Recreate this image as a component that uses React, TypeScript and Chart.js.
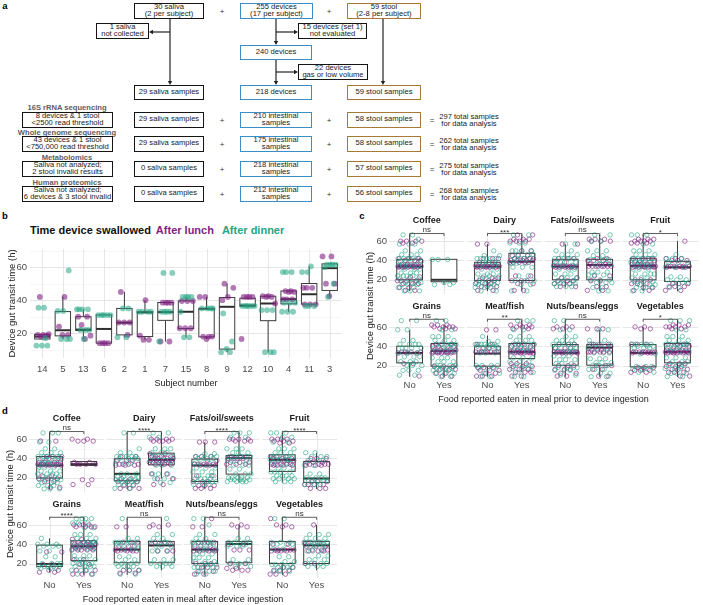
import React, { useEffect, useRef } from 'react';
import { Chart, registerables } from 'chart.js';

Chart.register(...registerables);

const FONT = "'Liberation Sans', Arial, Helvetica, sans-serif";
Chart.defaults.font.family = FONT;

const PURPLE = '#7F1F82';
const TEAL = '#22A683';
const BLUE = '#3A8DC5';
const BROWN = '#A87B35';
const TICK = '#4D4D4D';

// ---------------- Panel b data ----------------
const subjects = ['14', '5', '13', '6', '2', '1', '7', '15', '8', '9', '12', '10', '4', '11', '3'];
const bLo = [16.4, 16.5, 16.5, 14, 17.5, 16, 15, 17.5, 16.5, 8.5, 36.4, 8.5, 33, 36.5, 42];
const bQ1 = [16.5, 18.4, 21.7, 14, 19, 18, 27.8, 22.8, 17.8, 10.4, 36.4, 27.6, 37.8, 37.6, 45.9];
const bMed = [18, 21.8, 22.2, 22.6, 26.4, 32.6, 32.8, 33, 34.8, 36, 36.8, 38, 40.6, 43.6, 59.4];
const bQ3 = [19.3, 33.1, 30, 31.1, 35, 33, 38.6, 39.6, 35, 41.6, 41.2, 42.4, 45.6, 50.1, 62];
const bHi = [19.4, 42.2, 34.5, 31.1, 45, 40, 38.6, 42, 42, 50, 42, 43, 45.6, 60.5, 62];
const bLunch = [
  [42, 19.5, 19, 19, 18.5, 18],
  [42, 24, 19, 19],
  [30, 30, 25, 18.5, 16.5],
  [14, 14, 14, 14],
  [45, 26.5, 26.5, 26.5, 19],
  [40, 18.5, 16, 16],
  [38.5, 38.5, 38.5, 38.5, 15, 15],
  [39.5, 39.5, 39.5, 23, 23, 23],
  [42, 42, 18, 18, 18, 16.5],
  [50, 47.5, 42, 40],
  [42, 42, 42, 42, 16.5],
  [42.5, 42.5, 42, 42, 38],
  [45.5, 45.5, 45, 45, 40.5, 40.5, 40.5],
  [47.5, 47.5, 47.5, 37.5, 37.5, 37.5],
  [66.5, 66.5, 50, 50, 42.5],
];
const bDinner = [
  [35.5, 35.5, 12.5, 12.5, 12.5, 17],
  [58, 33.5, 33.5, 16.5, 16.5, 16.5],
  [34.5, 34.5, 34.5, 34.5, 22, 22, 22, 16.5],
  [31, 31, 31, 31, 31],
  [35, 35, 17.5, 17.5],
  [33, 33, 33, 33],
  [56.5, 56.5, 33, 33, 33, 33, 15],
  [42, 42, 42, 42, 33, 17.5, 17.5],
  [35, 35, 35, 35],
  [32, 15, 10.5, 8.5, 8.5],
  [36.5, 36.5, 36.5, 36.5, 36.5],
  [34, 34, 34, 8.5, 8.5, 8.5],
  [57, 57, 57, 38.5, 38.5, 38.5, 33, 33, 33],
  [57, 57, 60.5, 36.5, 36.5, 36.5],
  [61.5, 61.5, 61.5, 61.5, 60, 50, 42],
];

// ---------------- Panels c / d data ----------------
const facetNames = ['Coffee', 'Dairy', 'Fats/oil/sweets', 'Fruit', 'Grains', 'Meat/fish', 'Nuts/beans/eggs', 'Vegetables'];
const cSig = ['ns', '***', 'ns', '*', 'ns', '**', 'ns', '*'];
const dSig = ['ns', '****', '****', '****', '****', 'ns', 'ns', 'ns'];

// box stats: [lower whisker, Q1, median, Q3, upper whisker]
const cNoBox = [
  [8.3, 20, 33.7, 41.2, 66.6], [8.3, 19.3, 33.7, 38.1, 57], [12, 20, 33.7, 41.2, 57], [8.3, 20, 34.4, 42.2, 66.6],
  [8.3, 22.8, 33.1, 40, 57], [8.3, 19.3, 32.4, 40, 51], [8.3, 20.3, 33.1, 41.7, 66.6], [13, 18.6, 33.1, 41.7, 60],
];
const cYesBox = [
  [15, 18, 20, 41.2, 41.5], [8.3, 19.3, 38.8, 47.4, 66.6], [8.3, 20, 35.4, 41.2, 66.6], [8.3, 18.3, 33, 38.8, 60],
  [8.3, 19.3, 35.2, 42.8, 62], [13, 27.2, 34.1, 42.8, 66.6], [8.3, 20.3, 38.6, 41.7, 57], [8.3, 22.8, 34.1, 42.8, 66.6],
];
const dNoBox = [
  [8.3, 19.7, 32.8, 42, 66.6], [8.3, 16.9, 24.1, 39.7, 66.6], [8.3, 16.2, 32.8, 39.3, 57], [15, 26.6, 38.6, 43.8, 66.6],
  [11, 17, 19.5, 39, 46], [8.3, 20.8, 34.4, 42.9, 66.6], [8.3, 20, 34.4, 42.9, 66.6], [8.3, 20, 34.4, 42.9, 66.6],
];
const dYesBox = [
  [32.8, 32.8, 34.1, 36.9, 36.9], [19, 33.4, 38.6, 45.5, 66.6], [15, 23.8, 40.3, 43.1, 66.6], [8.3, 15.2, 19.3, 36.9, 46],
  [8.3, 23, 37.8, 43.6, 66.6], [13, 20.8, 38.8, 42.9, 66.6], [13, 20.8, 40.2, 42.9, 60], [13, 20, 38.8, 42.9, 60],
];

// point clusters: [transit time, number of devices]
const cNoLunch = [
  [[60, 4], [58, 2], [42, 3], [40, 3], [36, 4], [34, 10], [33, 6], [23, 2], [19, 4], [16, 3], [12, 2], [9, 2]],
  [[57, 2], [42, 3], [38, 3], [34, 10], [33, 5], [22, 3], [19, 3], [16, 3], [13, 3], [9, 2]],
  [[57, 2], [42, 3], [38, 2], [34, 8], [33, 6], [22, 2], [19, 3], [16, 3], [13, 2]],
  [[62, 3], [60, 4], [58, 3], [42, 4], [40, 4], [36, 5], [34, 10], [33, 5], [20, 3], [16, 3], [12, 2], [9, 2]],
  [[34, 4], [33, 3], [22, 2], [9, 1]],
  [[57, 2], [42, 2], [38, 3], [34, 8], [18, 3], [15, 3], [12, 2], [9, 3]],
  [[60, 3], [58, 2], [42, 3], [38, 3], [34, 10], [33, 5], [20, 3], [16, 3], [12, 2], [9, 2]],
  [[60, 2], [58, 2], [42, 3], [34, 8], [33, 4], [18, 3], [15, 3], [13, 2]],
];
const cNoDinner = [
  [[66.5, 2], [62, 1], [57, 3], [50, 2], [46, 3], [42, 6], [39, 4], [35, 5], [31, 3], [27, 3], [24, 4], [21, 3], [17, 4], [15, 3], [12, 2], [8.5, 3]],
  [[50, 1], [45, 2], [42, 5], [38, 4], [35, 4], [31, 3], [26, 3], [24, 3], [21, 3], [17, 4], [15, 3], [12, 3], [8.5, 2]],
  [[57, 2], [50, 2], [46, 3], [42, 5], [38, 4], [35, 3], [31, 3], [26, 3], [22, 3], [19, 3], [16, 4], [13, 3]],
  [[66.5, 3], [57, 2], [50, 3], [46, 3], [42, 6], [38, 5], [35, 4], [31, 3], [26, 4], [22, 3], [18, 4], [15, 3], [12, 3], [8.5, 2]],
  [[66.5, 2], [57, 2], [46, 2], [42, 4], [38, 4], [33, 3], [29, 3], [24, 3], [20, 3], [15, 3], [10, 2]],
  [[50, 1], [45, 2], [42, 6], [40, 4], [38, 3], [33, 3], [20, 4], [17, 3], [12, 2], [8.5, 2]],
  [[66.5, 2], [57, 2], [50, 2], [46, 3], [42, 5], [38, 4], [35, 3], [30, 3], [26, 3], [22, 3], [18, 4], [15, 3], [10, 2]],
  [[42, 5], [40, 3], [38, 3], [32, 2], [19, 3], [16, 3], [13, 2]],
];
const cYesLunch = [
  [],
  [[66.5, 2], [62, 3], [60, 4], [50, 2], [45, 3], [42, 4], [40, 6], [38, 5], [24, 2], [19, 3], [16, 2], [9, 2]],
  [[62, 3], [60, 3], [42, 2], [40, 3], [36, 4], [34, 8], [24, 2], [19, 2], [13, 2], [9, 2]],
  [[60, 1], [42, 3], [40, 3], [34, 6], [33, 4], [16, 3], [13, 3], [9, 2]],
  [[62, 3], [60, 4], [58, 3], [42, 3], [40, 4], [36, 5], [34, 10], [33, 5], [19, 3], [16, 3], [12, 2], [9, 2]],
  [[62, 3], [60, 4], [58, 2], [42, 4], [40, 3], [36, 5], [34, 10], [33, 5], [22, 3], [19, 3], [16, 3], [13, 3], [9, 2]],
  [[58, 3], [42, 4], [40, 3], [36, 4], [34, 6], [20, 3], [16, 2], [9, 2]],
  [[62, 3], [60, 4], [58, 2], [42, 4], [40, 3], [36, 5], [34, 10], [33, 5], [22, 3], [19, 3], [16, 3], [13, 3], [9, 2]],
];
const cYesDinner = [
  [[41, 3], [17, 2], [15, 2]],
  [[66.5, 2], [58, 3], [50, 4], [46, 3], [42, 4], [37, 3], [33, 3], [24, 2], [19, 3], [15, 2], [8.5, 2]],
  [[66.5, 2], [60, 2], [50, 3], [45, 2], [41, 4], [36, 3], [28, 3], [25, 3], [20, 3], [17, 3], [12, 2], [8.5, 2]],
  [[46, 1], [42, 3], [38, 3], [33, 3], [23, 2], [20, 3], [17, 3], [12, 2]],
  [[66.5, 2], [57, 2], [50, 3], [46, 3], [42, 6], [38, 4], [35, 4], [28, 3], [24, 3], [20, 4], [17, 4], [15, 3], [12, 3], [8.5, 2]],
  [[66.5, 3], [57, 2], [50, 3], [46, 3], [42, 5], [38, 4], [35, 3], [28, 3], [24, 3], [20, 3], [17, 3], [13, 2], [8.5, 2]],
  [[57, 2], [46, 2], [42, 4], [38, 3], [33, 3], [27, 3], [23, 3], [20, 3], [16, 3], [12, 2], [8.5, 2]],
  [[66.5, 3], [57, 2], [50, 3], [46, 3], [42, 6], [38, 4], [35, 3], [28, 3], [24, 3], [20, 3], [17, 3], [12, 3], [8.5, 2]],
];
const dNoLunch = [
  [[58, 2], [42, 3], [40, 3], [36, 4], [34, 8], [33, 5], [22, 2], [19, 3], [16, 2], [10, 2]],
  [[42, 2], [38, 3], [34, 4], [33, 3], [19, 2], [16, 3], [12, 2], [9, 3]],
  [[57, 3], [42, 3], [38, 2], [34, 4], [33, 4], [22, 2], [16, 3], [12, 3], [9, 3]],
  [[60, 4], [58, 3], [56, 2], [42, 3], [40, 3], [38, 4], [34, 5], [33, 4]],
  [[32, 2], [19, 2], [13, 2], [11, 2]],
  [[58, 2], [42, 3], [38, 3], [34, 4], [33, 4], [13, 3], [10, 2]],
  [[66.5, 1], [58, 2], [42, 4], [38, 3], [34, 5], [33, 4], [20, 3], [16, 3], [12, 2], [9, 2]],
  [[66.5, 1], [60, 2], [58, 2], [40, 2], [34, 5], [33, 4], [16, 2], [13, 3], [9, 3]],
];
const dNoDinner = [
  [[66.5, 3], [57, 2], [50, 2], [46, 3], [42, 6], [39, 5], [35, 4], [31, 3], [27, 3], [24, 4], [21, 3], [18, 4], [15, 3], [12, 3], [8.5, 3]],
  [[66.5, 2], [50, 1], [46, 2], [42, 5], [40, 4], [35, 3], [24, 3], [21, 4], [18, 5], [16, 4], [13, 3], [9, 2]],
  [[45, 2], [42, 4], [40, 4], [35, 3], [30, 3], [26, 3], [22, 3], [19, 4], [16, 4], [13, 3]],
  [[66.5, 3], [62, 2], [57, 2], [50, 3], [46, 3], [42, 6], [39, 5], [35, 4], [30, 3], [26, 4], [22, 4], [19, 4], [16, 3]],
  [[46, 1], [40, 3], [38, 3], [33, 2], [27, 2], [20, 4], [17, 5], [15, 3]],
  [[66.5, 1], [46, 2], [42, 5], [40, 4], [35, 3], [27, 2], [24, 2], [20, 4], [17, 4], [13, 2], [9, 2]],
  [[66.5, 2], [60, 1], [50, 2], [46, 2], [42, 5], [40, 4], [35, 3], [30, 3], [26, 3], [22, 3], [19, 4], [16, 4], [12, 3], [9, 2]],
  [[66.5, 2], [42, 3], [40, 3], [35, 2], [27, 2], [22, 2], [19, 4], [16, 4], [12, 3]],
];
const dYesLunch = [
  [[60, 2], [58, 3], [36, 2], [34, 4], [18, 2], [13, 2]],
  [[60, 4], [58, 4], [45, 2], [42, 4], [40, 5], [38, 6], [36, 5], [34, 4], [24, 2], [19, 2], [13, 2]],
  [[60, 4], [58, 3], [42, 3], [40, 4], [36, 3], [34, 3]],
  [[40, 3], [36, 3], [34, 4], [33, 3], [16, 3], [13, 4], [9, 3]],
  [[60, 4], [58, 4], [45, 2], [42, 4], [40, 5], [38, 5], [36, 5], [34, 5], [24, 2], [19, 2], [13, 3], [9, 3]],
  [[60, 2], [58, 2], [42, 2], [40, 3], [33, 3]],
  [[60, 2], [58, 2], [40, 2], [34, 3], [20, 2], [15, 2], [13, 3]],
  [[60, 1], [42, 3], [38, 3], [34, 3], [33, 3], [20, 2]],
];
const dYesDinner = [
  [],
  [[66.5, 2], [62, 2], [50, 3], [46, 3], [42, 4], [38, 4], [33, 3], [24, 3], [19, 3], [15, 2]],
  [[66.5, 3], [62, 2], [50, 3], [46, 3], [42, 5], [38, 4], [33, 3], [29, 2], [24, 3], [20, 5], [18, 5], [16, 4]],
  [[46, 2], [42, 3], [38, 3], [33, 2], [24, 2], [20, 4], [17, 5], [13, 3]],
  [[66.5, 4], [62, 3], [57, 2], [50, 3], [46, 3], [42, 6], [38, 4], [35, 4], [28, 3], [24, 4], [20, 5], [17, 4], [13, 3], [9, 2]],
  [[66.5, 1], [50, 2], [46, 2], [42, 4], [38, 3], [33, 3], [24, 3], [20, 4], [17, 3]],
  [[46, 2], [42, 4], [40, 3], [38, 3], [24, 2], [20, 3], [17, 2]],
  [[50, 3], [46, 3], [42, 5], [40, 4], [38, 3], [33, 3], [28, 2], [24, 3], [20, 4], [17, 3]],
];

// ---------------- Panel a text ----------------
const seqHeaders = ['16S rRNA sequencing', 'Whole genome sequencing', 'Metabolomics', 'Human proteomics'];
const seqExcluded = [
  ['8 devices & 1 stool', '<2500 read threshold'],
  ['43 devices & 1 stool', '<750,000 read threshold'],
  ['Saliva not analyzed;', '2 stool invalid results'],
  ['Saliva not analyzed;', '6 devices & 3 stool invalid'],
];
const seqSaliva = [29, 29, 0, 0];
const seqIntestinal = [210, 175, 218, 212];
const seqStool = [58, 58, 57, 56];
const seqTotal = [297, 262, 275, 268];

// ---------------- helpers ----------------
type Cl = number[][];
const expand = (cl: Cl) => cl.flatMap(([v, n]) => Array(n).fill(v));
const jit = (i: number, seed: number) => ((((i + 1) * 0.6180339887 + seed) % 1) + 1) % 1 - 0.5;
function hexA(hex: string, a: number) {
  const n = parseInt(hex.slice(1), 16);
  return `rgba(${(n >> 16) & 255},${(n >> 8) & 255},${n & 255},${a})`;
}

type Panel = { x0: number; x1: number; y0: number; y1: number; yOff: number; xs: number[] };
type BoxItem = { x: number; w: number; s: number[]; yOff: number };
type Strip = { x: number; y: number; text: string };
type Bracket = { x1: number; x2: number; y: number; label: string };

function decoPlugin(cfg: { panels: Panel[]; boxes: BoxItem[]; strips: Strip[]; brackets: Bracket[] }) {
  return {
    id: 'deco',
    beforeDatasetsDraw(chart: any) {
      const ctx = chart.ctx;
      const xs = chart.scales.x;
      const ys = chart.scales.y;
      ctx.save();
      for (const p of cfg.panels) {
        const L = xs.getPixelForValue(p.x0);
        const R = xs.getPixelForValue(p.x1);
        const T = ys.getPixelForValue(p.y1 + p.yOff);
        const B = ys.getPixelForValue(p.y0 + p.yOff);
        for (const v of [10, 20, 30, 40, 50, 60, 70]) {
          if (v < p.y0 || v > p.y1) continue;
          const major = v % 20 === 0;
          const y = Math.round(ys.getPixelForValue(v + p.yOff)) + 0.5;
          ctx.strokeStyle = major ? '#E6E6E6' : '#F3F3F3';
          ctx.lineWidth = major ? 1 : 0.7;
          ctx.beginPath();
          ctx.moveTo(L, y);
          ctx.lineTo(R, y);
          ctx.stroke();
        }
        for (const xv of p.xs) {
          const x = Math.round(xs.getPixelForValue(xv)) + 0.5;
          ctx.strokeStyle = '#E6E6E6';
          ctx.lineWidth = 1;
          ctx.beginPath();
          ctx.moveTo(x, T);
          ctx.lineTo(x, B);
          ctx.stroke();
        }
      }
      for (const b of cfg.boxes) {
        const [lo, q1, med, q3, hi] = b.s;
        const xc = xs.getPixelForValue(b.x);
        const xl = xs.getPixelForValue(b.x - b.w / 2);
        const xr = xs.getPixelForValue(b.x + b.w / 2);
        const py = (v: number) => ys.getPixelForValue(v + b.yOff);
        ctx.strokeStyle = '#3C3C3C';
        ctx.lineWidth = 1;
        ctx.beginPath();
        ctx.moveTo(xc, py(hi));
        ctx.lineTo(xc, py(q3));
        ctx.moveTo(xc, py(q1));
        ctx.lineTo(xc, py(lo));
        ctx.stroke();
        ctx.fillStyle = '#FFFFFF';
        ctx.fillRect(xl, py(q3), xr - xl, py(q1) - py(q3));
        ctx.strokeRect(xl, py(q3), xr - xl, py(q1) - py(q3));
        ctx.lineWidth = 2;
        ctx.strokeStyle = '#2E2E2E';
        ctx.beginPath();
        ctx.moveTo(xl, py(med));
        ctx.lineTo(xr, py(med));
        ctx.stroke();
      }
      ctx.restore();
    },
    afterDatasetsDraw(chart: any) {
      const ctx = chart.ctx;
      const xs = chart.scales.x;
      const ys = chart.scales.y;
      ctx.save();
      ctx.textAlign = 'center';
      for (const s of cfg.strips) {
        ctx.font = `bold 9px ${FONT}`;
        ctx.fillStyle = '#1A1A1A';
        ctx.textBaseline = 'middle';
        ctx.fillText(s.text, xs.getPixelForValue(s.x), ys.getPixelForValue(s.y) - 11);
      }
      for (const b of cfg.brackets) {
        const x1 = xs.getPixelForValue(b.x1);
        const x2 = xs.getPixelForValue(b.x2);
        const y = ys.getPixelForValue(b.y);
        const yl = ys.getPixelForValue(b.y - 2.5);
        ctx.strokeStyle = '#333333';
        ctx.lineWidth = 0.8;
        ctx.beginPath();
        ctx.moveTo(x1, yl);
        ctx.lineTo(x1, y);
        ctx.lineTo(x2, y);
        ctx.lineTo(x2, yl);
        ctx.stroke();
        ctx.font = `8px ${FONT}`;
        ctx.fillStyle = '#333333';
        ctx.textBaseline = 'bottom';
        ctx.fillText(b.label, (x1 + x2) / 2, y + (b.label === 'ns' ? 0.5 : 3));
      }
      ctx.restore();
    },
  };
}

// ---------------- chart builders ----------------
function buildB() {
  const lunch: any[] = [];
  const dinner: any[] = [];
  const boxes: BoxItem[] = [];
  subjects.forEach((_, i) => {
    const x = i + 1;
    let j = 0;
    bDinner[i].forEach((v) => dinner.push({ x: x + jit(j++, i * 0.29) * 0.7, y: v }));
    bLunch[i].forEach((v) => lunch.push({ x: x + jit(j++, i * 0.29) * 0.7, y: v }));
    boxes.push({ x, w: 0.75, s: [bLo[i], bQ1[i], bMed[i], bQ3[i], bHi[i]], yOff: 0 });
  });
  const panels: Panel[] = [{ x0: 0.4, x1: 15.6, y0: 5, y1: 71, yOff: 0, xs: subjects.map((_, i) => i + 1) }];
  return {
    type: 'scatter',
    data: {
      datasets: [
        { data: dinner, pointRadius: 2.9, pointBorderWidth: 0, pointBackgroundColor: hexA(TEAL, 0.55) },
        { data: lunch, pointRadius: 2.9, pointBorderWidth: 0, pointBackgroundColor: hexA(PURPLE, 0.6) },
      ],
    },
    options: {
      animation: false,
      responsive: false,
      events: [],
      layout: { padding: { top: 11, right: 4, left: 0, bottom: 0 } },
      plugins: { legend: { display: false }, tooltip: { enabled: false } },
      scales: {
        x: {
          type: 'linear', min: 0.4, max: 15.6,
          grid: { display: false, drawTicks: false }, border: { display: false },
          afterBuildTicks: (a: any) => { a.ticks = subjects.map((_, i) => ({ value: i + 1 })); },
          ticks: { callback: (v: number) => subjects[Math.round(v) - 1], autoSkip: false, maxRotation: 0, padding: 6, color: TICK, font: { size: 9.5 } },
          title: { display: true, text: 'Subject number', color: '#1A1A1A', font: { size: 9 }, padding: { top: 0, bottom: 1 } },
          afterFit: (a: any) => { a.height = 32; },
        },
        y: {
          type: 'linear', min: 5, max: 71,
          grid: { display: false, drawTicks: false }, border: { display: false },
          afterBuildTicks: (a: any) => { a.ticks = [20, 40, 60].map((v) => ({ value: v })); },
          ticks: { callback: (v: number) => String(v), padding: 3, color: TICK, font: { size: 9.5 } },
          title: { display: true, text: 'Device gut transit time (h)', color: '#1A1A1A', font: { size: 9.5 }, padding: { top: 6.3, bottom: 0 } },
          afterFit: (a: any) => { a.width = 30; },
        },
      },
    },
    plugins: [decoPlugin({ panels, boxes, strips: [], brackets: [] })],
  };
}

const G = 2.266;
const OFF = 88.8;
const Y0 = 5;
const Y1 = 69.5;

function buildFacets(p: any) {
  const lunch: any[] = [];
  const dinner: any[] = [];
  const boxes: BoxItem[] = [];
  const panels: Panel[] = [];
  const strips: Strip[] = [];
  const brackets: Bracket[] = [];
  const ticks: number[] = [];
  for (let f = 0; f < 8; f++) {
    const k = f % 4;
    const row = Math.floor(f / 4);
    const yOff = row === 0 ? OFF : 0;
    const xNo = k * G + 1;
    const xYes = k * G + 2;
    if (row === 0) ticks.push(xNo, xYes);
    panels.push({ x0: k * G + 0.4, x1: k * G + 2.6, y0: Y0, y1: Y1, yOff, xs: [xNo, xYes] });
    const groups = [
      [p.noL[f], p.noD[f], xNo, p.noBox[f]],
      [p.yesL[f], p.yesD[f], xYes, p.yesBox[f]],
    ];
    groups.forEach(([L, D, x, bx]: any, g: number) => {
      const seed = f * 0.137 + g * 0.41;
      let i = 0;
      expand(D).forEach((v) => dinner.push({ x: x + jit(i++, seed) * 0.72, y: v + yOff }));
      expand(L).forEach((v) => lunch.push({ x: x + jit(i++, seed) * 0.72, y: v + yOff }));
      boxes.push({ x, w: 0.75, s: bx, yOff });
    });
    strips.push({ x: k * G + 1.5, y: Y1 + yOff, text: facetNames[f] });
    brackets.push({ x1: xNo, x2: xYes, y: 67.9 + yOff, label: p.sig[f] });
  }
  return {
    type: 'scatter',
    data: {
      datasets: [
        { data: dinner, pointRadius: 2.2, pointBorderWidth: 0.9, pointBackgroundColor: 'rgba(0,0,0,0)', pointBorderColor: hexA(TEAL, 0.65) },
        { data: lunch, pointRadius: 2.2, pointBorderWidth: 0.9, pointBackgroundColor: 'rgba(0,0,0,0)', pointBorderColor: hexA(PURPLE, 0.7) },
      ],
    },
    options: {
      animation: false,
      responsive: false,
      events: [],
      layout: { padding: { top: p.padTop, right: p.padRight, left: 0, bottom: 0 } },
      plugins: { legend: { display: false }, tooltip: { enabled: false } },
      scales: {
        x: {
          type: 'linear', min: 0.4, max: 3 * G + 2.6,
          grid: { display: false, drawTicks: false }, border: { display: false },
          afterBuildTicks: (a: any) => { a.ticks = ticks.map((v) => ({ value: v })); },
          ticks: { callback: (_v: number, idx: number) => (idx % 2 === 0 ? 'No' : 'Yes'), autoSkip: false, maxRotation: 0, padding: p.xTickPad, color: TICK, font: { size: 9.5 } },
          title: { display: true, text: p.xTitle, color: '#1A1A1A', font: { size: 9 }, padding: { top: 0, bottom: 0 } },
          afterFit: (a: any) => { a.height = p.xAxisH; },
        },
        y: {
          type: 'linear', min: Y0, max: Y1 + OFF,
          grid: { display: false, drawTicks: false }, border: { display: false },
          afterBuildTicks: (a: any) => { a.ticks = [20, 40, 60, 20 + OFF, 40 + OFF, 60 + OFF].map((v) => ({ value: v })); },
          ticks: { callback: (v: number) => String(Math.round(v > OFF ? v - OFF : v)), autoSkip: false, padding: 2, color: TICK, font: { size: 9.5 } },
          title: { display: true, text: 'Device gut transit time (h)', color: '#1A1A1A', font: { size: 9.5 }, padding: { top: p.yTitlePad, bottom: 0 } },
          afterFit: (a: any) => { a.width = p.yAxisW; },
        },
      },
    },
    plugins: [decoPlugin({ panels, boxes, strips, brackets })],
  };
}

function ChartCanvas({ left, top, width, height, build }: any) {
  const ref = useRef<HTMLCanvasElement>(null);
  useEffect(() => {
    const chart = new Chart(ref.current as HTMLCanvasElement, build());
    return () => chart.destroy();
  }, []);
  return <canvas ref={ref} width={width} height={height} style={{ position: 'absolute', left, top, width, height }} />;
}

// ---------------- Panel a ----------------
function FBox({ x, y, w, h, c, lines }: any) {
  return (
    <div
      style={{
        position: 'absolute', left: x, top: y, width: w, height: h, boxSizing: 'border-box',
        border: `1.5px solid ${c}`, background: '#fff', display: 'flex', flexDirection: 'column',
        alignItems: 'center', justifyContent: 'center', fontSize: 7.6, lineHeight: '6.8px',
        color: '#1A1A1A', whiteSpace: 'nowrap',
      }}
    >
      {lines.map((t: string, i: number) => (
        <div key={i}>{t}</div>
      ))}
    </div>
  );
}

function Txt({ x, y, children, style }: any) {
  return (
    <div style={{ position: 'absolute', left: x, top: y, transform: 'translate(-50%, -50%)', whiteSpace: 'nowrap', ...style }}>
      {children}
    </div>
  );
}

function PanelA() {
  const BLACK = '#141414';
  const rowTops = [112, 136, 161, 186];
  const headerY = [107, 132, 157, 181.5];
  const arrows = [
    [170, 19, 170, 85], [170, 32, 149, 32],
    [276, 19, 276, 45], [276, 32, 298, 32],
    [276, 60, 276, 85], [276, 72, 298, 72],
    [383, 19, 383, 85],
  ];
  return (
    <>
      <svg width={703} height={210} style={{ position: 'absolute', left: 0, top: 0 }}>
        {arrows.map(([x1, y1, x2, y2], i) => {
          const dx = Math.sign(x2 - x1);
          const dy = Math.sign(y2 - y1);
          const hl = 4;
          const hw = 2.2;
          const bx = x2 - dx * hl;
          const by = y2 - dy * hl;
          const pts = `${x2},${y2} ${bx - dy * hw},${by - dx * hw} ${bx + dy * hw},${by + dx * hw}`;
          return (
            <g key={i}>
              <line x1={x1} y1={y1} x2={bx} y2={by} stroke="#222" strokeWidth={1.2} />
              <polygon points={pts} fill="#222" />
            </g>
          );
        })}
      </svg>
      <FBox x={134} y={3} w={70} h={16} c={BLACK} lines={['30 saliva', '(2 per subject)']} />
      <FBox x={240} y={3} w={73} h={16} c={BLUE} lines={['255 devices', '(17 per subject)']} />
      <FBox x={347} y={3} w={74} h={16} c={BROWN} lines={['59 stool', '(2-8 per subject)']} />
      <FBox x={96} y={23} w={53} h={16} c={BLACK} lines={['1 saliva', 'not collected']} />
      <FBox x={298} y={23} w={69} h={16} c={BLACK} lines={['15 devices (set 1)', 'not evaluated']} />
      <FBox x={240} y={45} w={72} h={15} c={BLUE} lines={['240 devices']} />
      <FBox x={298} y={64} w={70} h={16} c={BLACK} lines={['22 devices', 'gas or low volume']} />
      <FBox x={134} y={85} w={70} h={15} c={BLACK} lines={['29 saliva samples']} />
      <FBox x={240} y={85} w={72} h={15} c={BLUE} lines={['218 devices']} />
      <FBox x={347} y={85} w={74} h={15} c={BROWN} lines={['59 stool samples']} />
      <Txt x={222} y={11} style={{ fontSize: 8, color: '#333' }}>+</Txt>
      <Txt x={329} y={11} style={{ fontSize: 8, color: '#333' }}>+</Txt>
      {rowTops.map((t, i) => (
        <React.Fragment key={i}>
          <Txt x={67} y={headerY[i]} style={{ fontSize: 7.6, fontWeight: 'bold', color: '#5E5E5E' }}>{seqHeaders[i]}</Txt>
          <FBox x={22} y={t} w={91} h={15.5} c={BLACK} lines={seqExcluded[i]} />
          <FBox x={134} y={t} w={70} h={15.5} c={BLACK} lines={[`${seqSaliva[i]} saliva samples`]} />
          <Txt x={222} y={t + 8} style={{ fontSize: 8, color: '#333' }}>+</Txt>
          <FBox x={240} y={t} w={72} h={15.5} c={BLUE} lines={[`${seqIntestinal[i]} intestinal`, 'samples']} />
          <Txt x={329} y={t + 8} style={{ fontSize: 8, color: '#333' }}>+</Txt>
          <FBox x={347} y={t} w={74} h={15.5} c={BROWN} lines={[`${seqStool[i]} stool samples`]} />
          <Txt x={432} y={t + 8} style={{ fontSize: 8, color: '#333' }}>=</Txt>
          <Txt x={469} y={t + 8} style={{ fontSize: 7.6, lineHeight: '7px', color: '#1A1A1A', textAlign: 'center' }}>
            <div>{`${seqTotal[i]} total samples`}</div>
            <div>for data analysis</div>
          </Txt>
        </React.Fragment>
      ))}
    </>
  );
}

export default function App() {
  return (
    <div style={{ position: 'absolute', left: 0, top: 0, width: 703, height: 605, overflow: 'hidden', background: '#fff', fontFamily: FONT }}>
      <PanelA />
      <Txt x={5} y={5} style={{ fontSize: 9.5, fontWeight: 'bold' }}>a</Txt>
      <Txt x={5} y={215} style={{ fontSize: 9.5, fontWeight: 'bold' }}>b</Txt>
      <Txt x={362} y={215} style={{ fontSize: 9.5, fontWeight: 'bold' }}>c</Txt>
      <Txt x={5} y={410} style={{ fontSize: 9.5, fontWeight: 'bold' }}>d</Txt>
      <div style={{ position: 'absolute', left: 30, top: 223, fontSize: 11, fontWeight: 'bold', lineHeight: '14px', whiteSpace: 'nowrap' }}>
        <span style={{ color: '#111' }}>Time device swallowed</span>
        <span style={{ color: PURPLE, marginLeft: 5 }}>After lunch</span>
        <span style={{ color: TEAL, marginLeft: 8 }}>After dinner</span>
      </div>
      <ChartCanvas left={0} top={238} width={346} height={152} build={buildB} />
      <ChartCanvas
        left={357} top={212} width={346} height={193}
        build={() => buildFacets({
          noL: cNoLunch, noD: cNoDinner, yesL: cYesLunch, yesD: cYesDinner, noBox: cNoBox, yesBox: cYesBox, sig: cSig,
          xTitle: 'Food reported eaten in meal prior to device ingestion',
          padTop: 20, padRight: 1, xAxisH: 25, xTickPad: 0, yAxisW: 32, yTitlePad: 7.3,
        })}
      />
      <ChartCanvas
        left={0} top={409} width={342} height={196}
        build={() => buildFacets({
          noL: dNoLunch, noD: dNoDinner, yesL: dYesLunch, yesD: dYesDinner, noBox: dNoBox, yesBox: dYesBox, sig: dSig,
          xTitle: 'Food reported eaten in meal after device ingestion',
          padTop: 21, padRight: 0, xAxisH: 27, xTickPad: 2, yAxisW: 29, yTitlePad: 4.8,
        })}
      />
    </div>
  );
}
